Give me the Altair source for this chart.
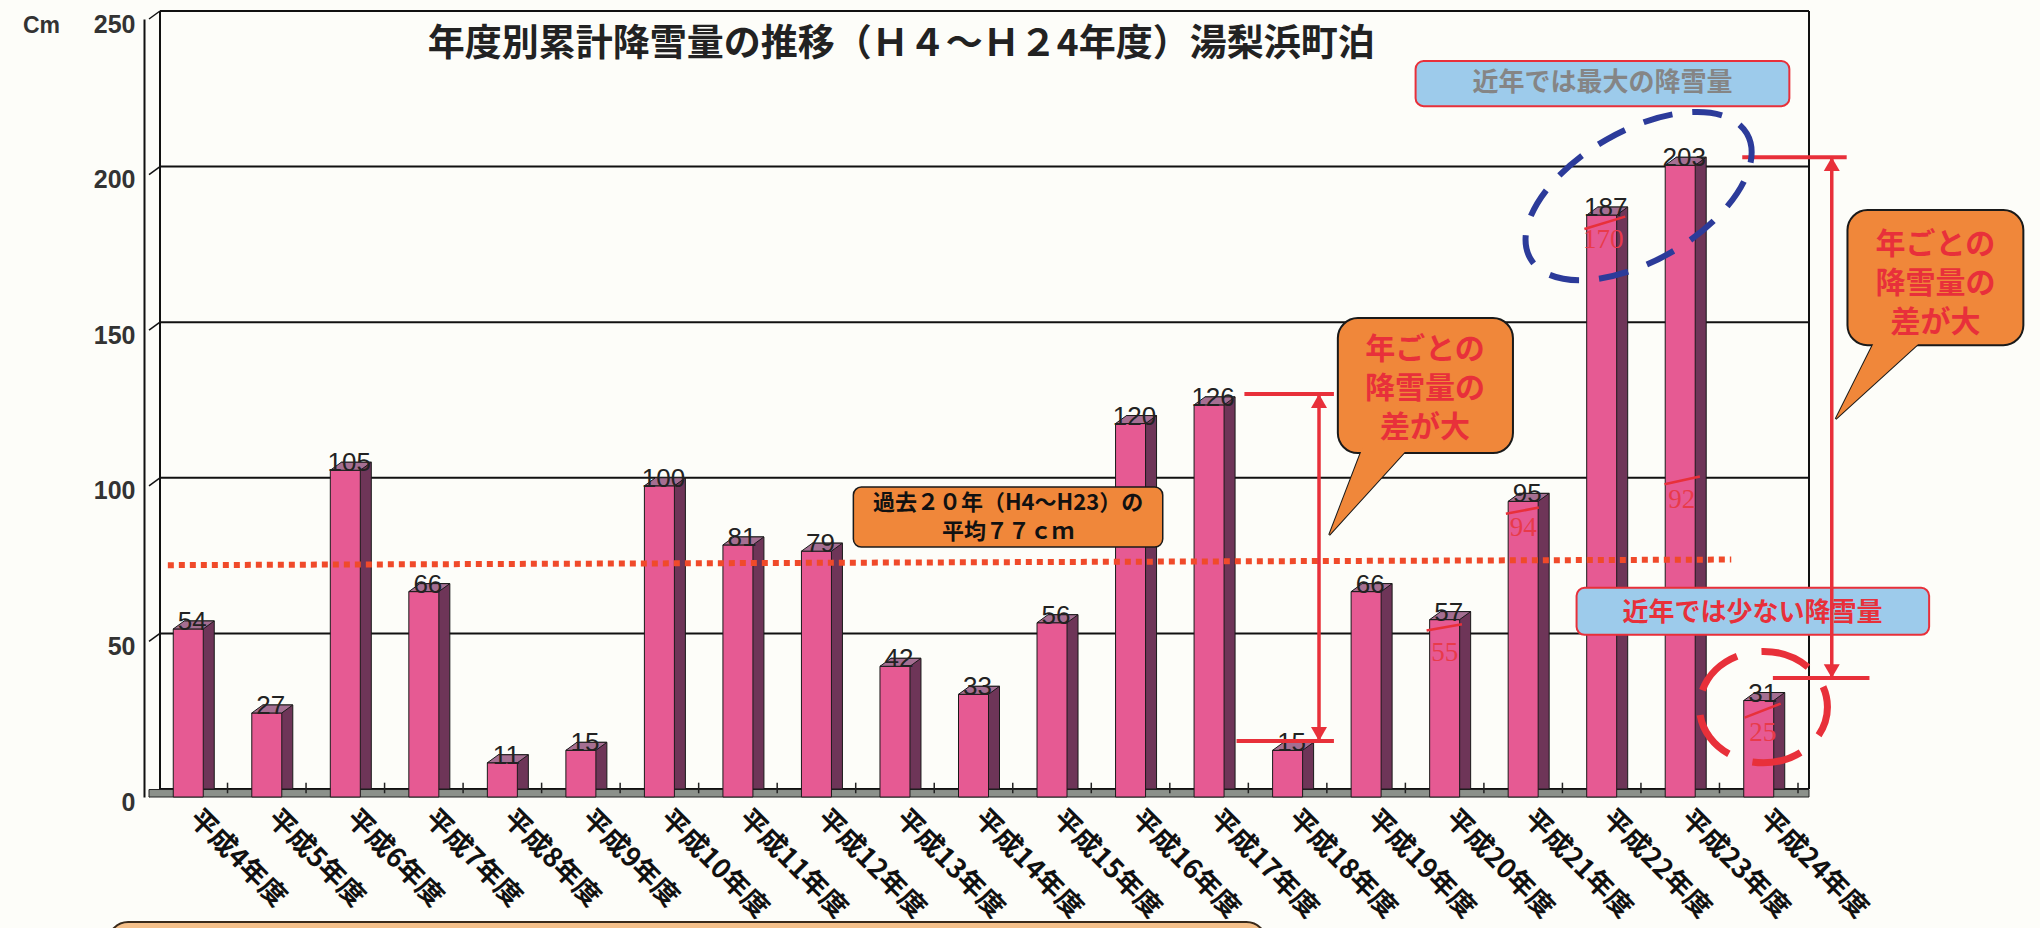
import json
import altair as alt
import pandas as pd

# ---------------- data ----------------
categories = ["平成4年度", "平成5年度", "平成6年度", "平成7年度", "平成8年度", "平成9年度",
              "平成10年度", "平成11年度", "平成12年度", "平成13年度", "平成14年度", "平成15年度",
              "平成16年度", "平成17年度", "平成18年度", "平成19年度", "平成20年度", "平成21年度",
              "平成22年度", "平成23年度", "平成24年度"]
snowfall = [54, 27, 105, 66, 11, 15, 100, 81, 79, 42, 33, 56, 120, 126, 15, 66, 57, 95, 187, 203, 31]
y_ticks = [0, 50, 100, 150, 200, 250]

# average line (drawn slightly tilted in the original)
avg_x = [0.24, 20.15]
avg_y = [74.5, 76.3]

# red hand-written comparison values on the last bars
red_labels = ["55", "94", "170", "92", "25"]
red_line_x1 = [16.27, 17.28, 18.28, 19.30, 20.32]
red_line_x2 = [16.72, 17.70, 18.80, 19.75, 20.78]
red_line_y1 = [53.5, 91.0, 182.5, 100.5, 25.5]
red_line_y2 = [55.5, 93.0, 186.5, 103.0, 30.0]
red_text_x = [16.5, 17.5, 18.52, 19.52, 20.55]
red_text_y = [46.3, 86.5, 179.0, 95.5, 20.5]

title_text = "年度別累計降雪量の推移（Ｈ４～Ｈ２4年度）湯梨浜町泊"
unit_text = "Cm"

avg_note_lines = ["過去２０年（H4～H23）の", "平均７７ｃｍ"]
avg_note_text_y = [94.5, 85.2]

bubble_text = "年ごとの\n降雪量の\n差が大"

max_note = "近年では最大の降雪量"
min_note = "近年では少ない降雪量"

# ---------------- layout / style ----------------
W, H = 1659, 778
PAD = {"left": 144, "top": 19, "right": 237, "bottom": 131}
BG = "#fdfdf9"
JP = "Noto Sans CJK JP"
SANS = "Liberation Sans"
SERIF = "Liberation Serif"
RED = "#e8303a"
ORANGE = "#f0873a"
BLUEBOX = "#9dcbeb"
INK = "#1a1a1a"

XS = alt.Scale(domain=[0, 21], nice=False, zero=False)
YS = alt.Scale(domain=[0, 250], nice=False, zero=False)

label_expr = json.dumps(categories, ensure_ascii=False) + "[floor(datum.value)]"
X_AXIS = alt.Axis(values=[i + 0.5 for i in range(len(categories))], labelExpr=label_expr,
                  labelAngle=45, labelAlign="left", labelBaseline="top", labelPadding=8,
                  labelOffset=14, ticks=False, domain=False, grid=False, title=None,
                  labelFont=JP, labelFontSize=27, labelFontWeight="bold", labelColor="#111111",
                  labelOverlap=False, labelFlush=False, labelLimit=400)
Y_AXIS = alt.Axis(values=y_ticks, labelPadding=9, labelOffset=5, ticks=False, domain=True,
                  domainColor="#111111", domainWidth=2, grid=False, title=None,
                  labelFont=SANS, labelFontSize=25, labelFontWeight="bold", labelColor="#333333",
                  labelOverlap=False, labelFlush=False)


def mk(df, mark, **props):
    enc = {}
    cols = list(df.columns)
    if "x" in cols:
        enc["x"] = alt.X("x:Q", scale=XS, axis=X_AXIS)
    if "x2" in cols:
        enc["x2"] = alt.X2("x2:Q")
    if "y" in cols:
        enc["y"] = alt.Y("y:Q", scale=YS, axis=Y_AXIS)
    if "y2" in cols:
        enc["y2"] = alt.Y2("y2:Q")
    if "t" in cols:
        enc["text"] = alt.Text("t:N")
    props.setdefault("clip", False)
    return getattr(alt.Chart(df), "mark_" + mark)(**props).encode(**enc)


def ellipse_path(ry):
    k = 0.5523
    return (f"M 1 0 C 1 {k*ry:.4f} {k} {ry} 0 {ry} C {-k} {ry} -1 {k*ry:.4f} -1 0 "
            f"C -1 {-k*ry:.4f} {-k} {-ry} 0 {-ry} C {k} {-ry} 1 {-k*ry:.4f} 1 0 Z")


# ---------------- bars ----------------
bar_df = pd.DataFrame({"cat": categories, "idx": list(range(len(categories))), "v": snowfall})
base = alt.Chart(bar_df).transform_calculate(xc="datum.idx + 0.5")

xq = alt.X("xc:Q", scale=XS, axis=X_AXIS)
yq = alt.Y("v:Q", scale=YS, axis=Y_AXIS)

side = base.mark_bar(orient="vertical", width=30, xOffset=11, yOffset=-8, y2Offset=-8,
                     color="#6e3558", stroke=INK, strokeWidth=1).encode(x=xq, y=yq, y2=alt.datum(0))
front = base.mark_bar(orient="vertical", width=30, color="#e65a93", stroke=INK,
                      strokeWidth=1).encode(x=xq, y=yq)
topface = base.mark_point(shape="M -1 0.195 L -0.463 -0.195 L 1 -0.195 L 0.463 0.195 Z",
                          size=1681, filled=True, fill="#a56f92", stroke=INK, strokeWidth=1,
                          opacity=1, xOffset=5.5, yOffset=-4).encode(x=xq, y=yq)
bar_labels = base.mark_text(font=SANS, fontSize=26, color="#222222", dx=4, dy=-7,
                            baseline="middle").encode(x=xq, y=yq, text=alt.Text("v:Q"))

# ---------------- 3D frame ----------------
grid = mk(pd.DataFrame({"x": [0] * 6, "x2": [21] * 6, "y": y_ticks}), "rule",
          color="#111111", strokeWidth=2, xOffset=11, x2Offset=11, yOffset=-8)
walls = mk(pd.DataFrame({"x": [0, 21], "y": [0, 0], "y2": [250, 250]}), "rule",
           color="#111111", strokeWidth=2, xOffset=11, yOffset=-8, y2Offset=-8)
diag = mk(pd.DataFrame({"x": [0] * 6, "x2": [0] * 6, "y": y_ticks, "y2": y_ticks}), "rule",
          color="#111111", strokeWidth=1.5, x2Offset=11, y2Offset=-8)
floor = mk(pd.DataFrame({"x": [0], "x2": [21], "y": [0], "y2": [2.4]}), "rect",
           fill="#8c918b", stroke="#222222", strokeWidth=1, x2Offset=11)
floor_ticks = mk(pd.DataFrame({"x": list(range(1, 22)), "y": [1.2] * 21, "y2": [4.6] * 21}),
                 "rule", color="#222222", strokeWidth=1.5)

# ---------------- annotations ----------------
bottom_box = mk(pd.DataFrame({"x": [-0.52], "x2": [14.23], "y": [-40.2], "y2": [-70]}), "rect",
                fill="#f5c08a", stroke="#3a2a1a", strokeWidth=2, cornerRadius=20)

avg_line = mk(pd.DataFrame({"x": avg_x, "y": avg_y}), "line", color="#f04a2a",
              strokeWidth=6, strokeDash=[6, 5], strokeCap="butt")

red_rules = mk(pd.DataFrame({"x": red_line_x1, "x2": red_line_x2, "y": red_line_y1,
                             "y2": red_line_y2}), "rule", color=RED, strokeWidth=2.5)
red_texts = mk(pd.DataFrame({"x": red_text_x, "y": red_text_y, "t": red_labels}), "text",
               font=SERIF, fontSize=27, color="#e83a4a", baseline="middle")

note_box = mk(pd.DataFrame({"x": [8.97], "x2": [12.91], "y": [99.6], "y2": [80.3]}), "rect",
              fill=ORANGE, stroke=INK, strokeWidth=1.5, cornerRadius=8)
note_text = mk(pd.DataFrame({"x": [10.94, 10.94], "y": avg_note_text_y, "t": avg_note_lines}),
               "text", font=JP, fontSize=22, fontWeight="bold", color="#111111", baseline="middle")

max_box = mk(pd.DataFrame({"x": [16.13], "x2": [20.89], "y": [236.5], "y2": [222.0]}), "rect",
             fill=BLUEBOX, stroke=RED, strokeWidth=2, cornerRadius=8)
max_text = mk(pd.DataFrame({"x": [18.51], "y": [229.4], "t": [max_note]}), "text",
              font=JP, fontSize=26, fontWeight="bold", color="#858585", baseline="middle")
min_box = mk(pd.DataFrame({"x": [18.18], "x2": [22.67], "y": [67.2], "y2": [52.1]}), "rect",
             fill=BLUEBOX, stroke=RED, strokeWidth=2, cornerRadius=8)
min_text = mk(pd.DataFrame({"x": [20.42], "y": [59.2], "t": [min_note]}), "text",
              font=JP, fontSize=26, fontWeight="bold", color=RED, baseline="middle")

# arrows
arrow_v = mk(pd.DataFrame({"x": [14.9, 21.43], "y": [129.5, 205.6], "y2": [18.0, 38.2]}),
             "rule", color=RED, strokeWidth=3.5)
arrow_h = mk(pd.DataFrame({"x": [13.95, 13.85, 20.29, 20.68], "x2": [15.09, 15.09, 21.62, 21.91],
                           "y": [129.5, 18.0, 205.6, 38.2]}), "rule", color=RED, strokeWidth=4)
head_up = mk(pd.DataFrame({"x": [14.9, 21.43], "y": [129.5, 205.6]}), "point",
             shape="triangle-up", size=256, filled=True, color=RED, opacity=1, yOffset=7)
head_dn = mk(pd.DataFrame({"x": [14.9, 21.43], "y": [18.0, 38.2]}), "point",
             shape="triangle-down", size=256, filled=True, color=RED, opacity=1, yOffset=-7)


def bubble(x1, x2, y1, y2, base_x1, base_x2, tip_x, tip_y, text_x, text_y):
    tail = pd.DataFrame({"y": [tip_y, y2 + 2.0], "x": [tip_x, base_x1], "x2": [tip_x, base_x2]})
    tail_line = mk(tail, "area", orient="horizontal", fill=ORANGE, stroke=INK, strokeWidth=2)
    box = mk(pd.DataFrame({"x": [x1], "x2": [x2], "y": [y1], "y2": [y2]}), "rect",
             fill=ORANGE, stroke=INK, strokeWidth=2, cornerRadius=20)
    tail_fill = mk(tail, "area", orient="horizontal", fill=ORANGE, strokeWidth=0)
    txt = mk(pd.DataFrame({"x": [text_x], "y": [text_y], "t": [bubble_text]}), "text",
             font=JP, fontSize=30, fontWeight="bold", color=RED, baseline="middle",
             lineBreak="\n", lineHeight=39)
    return [tail_line, box, tail_fill, txt]


# text_y = position of the first line
bubble1 = bubble(15.14, 17.37, 153.9, 110.5, 15.46, 16.05, 15.03, 84.2, 16.25, 143.6)
bubble2 = bubble(21.63, 23.87, 188.6, 145.2, 21.99, 22.60, 21.48, 121.5, 22.75, 177.4)

blue_ring = mk(pd.DataFrame({"x": [18.97], "y": [193.1]}), "point", shape=ellipse_path(0.52),
               size=62500, filled=False, color="#2c3b9a", strokeWidth=6, opacity=1,
               angle=330, strokeDash=[30, 20])
red_ring = mk(pd.DataFrame({"x": [20.56], "y": [28.9]}), "point", shape=ellipse_path(0.87),
              size=16384, filled=False, color=RED, strokeWidth=7, opacity=1,
              strokeDash=[50, 25], strokeDashOffset=20)

title = mk(pd.DataFrame({"x": [9.58], "y": [241.5], "t": [title_text]}), "text",
           font=JP, fontSize=37, fontWeight="bold", color="#222222", baseline="middle")
unit = mk(pd.DataFrame({"x": [-1.37], "y": [247.8], "t": [unit_text]}), "text",
          font=SANS, fontSize=23, fontWeight="bold", color="#333333", baseline="middle")

layers = [bottom_box, grid, walls, diag, floor, floor_ticks,
          side, front, topface, bar_labels,
          avg_line, red_rules, red_texts, note_box, note_text,
          max_box, max_text, min_box, min_text,
          arrow_v, arrow_h, head_up, head_dn] + bubble1 + bubble2 + [blue_ring, red_ring, title, unit]

chart = alt.layer(*layers).properties(
    width=W, height=H, padding=PAD,
    autosize=alt.AutoSizeParams(type="none"),
    background=BG,
).configure_view(stroke=None)

chart.save("out.html", embed_options={"renderer": "svg", "actions": False})
